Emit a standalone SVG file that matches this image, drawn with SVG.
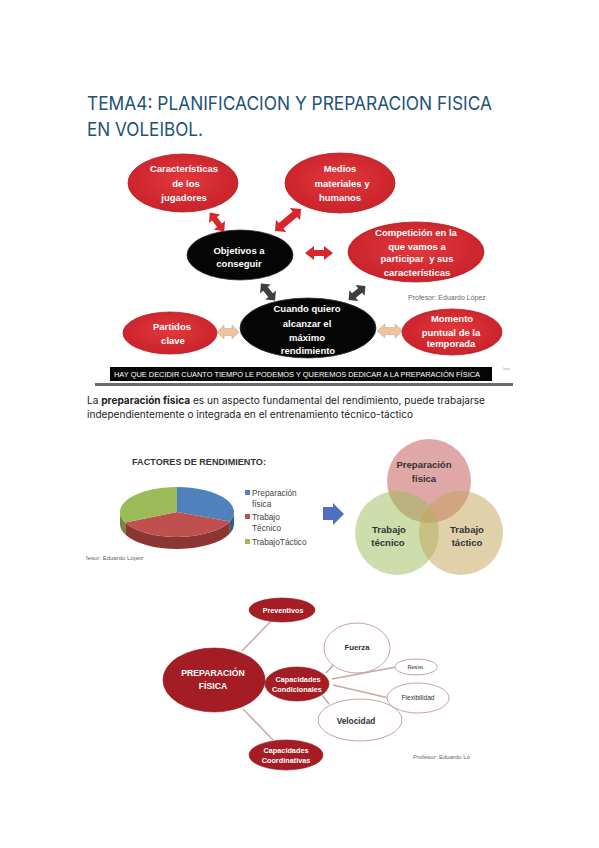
<svg xmlns="http://www.w3.org/2000/svg" width="599" height="848" viewBox="0 0 599 848">
<defs>
<radialGradient id="redG" cx="50%" cy="45%" r="60%">
<stop offset="0" stop-color="#E0393C"/><stop offset="1" stop-color="#C9202A"/>
</radialGradient>
<style>
.title{font-family:Inter,"Liberation Sans",sans-serif;font-size:19px;fill:#215374}
.lbl{font-family:"Liberation Sans",Arial,sans-serif;font-weight:bold;font-size:9.5px;fill:#fff;text-anchor:middle}
.red{fill:url(#redG);stroke:#B81E24;stroke-width:0.8}
.blk{fill:#050505;stroke:#333;stroke-width:0.8}
.rarr{fill:#D7262C}
.garr{fill:#3F3F3F}
.tarr{fill:#EDC4A2;stroke:#D8A887;stroke-width:0.6}
.prof{font-family:"Liberation Sans",Arial,sans-serif;fill:#666}
.para{font-family:Inter,"Liberation Sans",sans-serif;font-size:10px;fill:#222}
.leg{font-family:"Liberation Sans",Arial,sans-serif;font-size:8.3px;fill:#444}
.venn{font-family:"Liberation Sans",Arial,sans-serif;font-weight:bold;font-size:9.5px;fill:#333;text-anchor:middle}
.dred{fill:#A51D24;stroke:#8E1820;stroke-width:0.6}
.mm{font-family:"Liberation Sans",Arial,sans-serif;font-weight:bold;fill:#fff;text-anchor:middle}
.wo{fill:#fff;stroke:#C9A3A3;stroke-width:1}
.mt{font-family:"Liberation Sans",Arial,sans-serif;fill:#333;text-anchor:middle}
.ln{stroke:#C9A7A7;stroke-width:1.5;fill:none}
</style>
</defs>
<rect width="599" height="848" fill="#fff"/>

<!-- Title -->
<text class="title" x="87" y="110" textLength="405" lengthAdjust="spacingAndGlyphs">TEMA4: PLANIFICACION Y PREPARACION FISICA</text>
<text class="title" x="87" y="136" textLength="116" lengthAdjust="spacingAndGlyphs">EN VOLEIBOL.</text>

<!-- Top diagram connectors -->
<g id="top-connectors">
<polygon class="rarr" transform="translate(217,222) rotate(53)" points="-12,0 -4,-7 -4,-3 4,-3 4,-7 12,0 4,7 4,3 -4,3 -4,7"/>
<polygon class="rarr" transform="translate(288,220) rotate(-40)" points="-17,0 -9,-8 -9,-3.5 9,-3.5 9,-8 17,0 9,8 9,3.5 -9,3.5 -9,8"/>
<polygon class="rarr" transform="translate(319,253)" points="-14,0 -5,-7 -5,-3 5,-3 5,-7 14,0 5,7 5,3 -5,3 -5,7"/>
<polygon class="garr" transform="translate(268,292) rotate(50)" points="-11,0 -4,-7 -4,-3 4,-3 4,-7 11,0 4,7 4,3 -4,3 -4,7"/>
<polygon class="garr" transform="translate(357,293) rotate(-40)" points="-11,0 -4,-7 -4,-3 4,-3 4,-7 11,0 4,7 4,3 -4,3 -4,7"/>
<polygon class="tarr" transform="translate(228,332)" points="-11,0 -4,-7 -4,-3.5 4,-3.5 4,-7 11,0 4,7 4,3.5 -4,3.5 -4,7"/>
<polygon class="tarr" transform="translate(390,331)" points="-13,0 -5,-7 -5,-3.5 5,-3.5 5,-7 13,0 5,7 5,3.5 -5,3.5 -5,7"/>
</g>

<g id="caracteristicas">
<ellipse class="red" cx="183" cy="183" rx="55" ry="29"/>
<text class="lbl" x="184" y="172">Características</text>
<text class="lbl" x="186" y="187">de los</text>
<text class="lbl" x="184" y="201">jugadores</text>
</g>
<g id="medios">
<ellipse class="red" cx="340" cy="183" rx="55" ry="30"/>
<text class="lbl" x="340" y="172">Medios</text>
<text class="lbl" x="342" y="187">materiales y</text>
<text class="lbl" x="340" y="201">humanos</text>
</g>
<g id="competicion">
<ellipse class="red" cx="416" cy="252" rx="68" ry="30"/>
<text class="lbl" x="416" y="236">Competición en la</text>
<text class="lbl" x="417" y="250">que vamos a</text>
<text class="lbl" x="417" y="262" xml:space="preserve">participar  y sus</text>
<text class="lbl" x="417" y="276">características</text>
</g>
<g id="objetivos">
<ellipse class="blk" cx="240" cy="255" rx="53" ry="25"/>
<text class="lbl" x="239" y="254">Objetivos a</text>
<text class="lbl" x="239" y="267">conseguir</text>
</g>
<g id="cuando">
<ellipse class="blk" cx="308" cy="328" rx="68" ry="30"/>
<text class="lbl" x="307" y="312">Cuando quiero</text>
<text class="lbl" x="307" y="327">alcanzar el</text>
<text class="lbl" x="307" y="341">máximo</text>
<text class="lbl" x="308" y="354">rendimiento</text>
</g>
<g id="partidos">
<ellipse class="red" cx="170" cy="333" rx="47" ry="21"/>
<text class="lbl" x="172" y="330">Partidos</text>
<text class="lbl" x="173" y="344">clave</text>
</g>
<g id="momento">
<ellipse class="red" cx="452" cy="332" rx="50" ry="23"/>
<text class="lbl" x="452" y="322">Momento</text>
<text class="lbl" x="451" y="336">puntual de la</text>
<text class="lbl" x="451" y="347">temporada</text>
</g>
<text class="prof" x="408" y="300" font-size="7">Profesor: Eduardo López</text>

<!-- Bar -->
<g id="bar">
<rect x="110" y="367" width="382" height="14" fill="#050505"/>
<text x="114" y="377" font-family="'Liberation Sans',Arial,sans-serif" font-size="8" fill="#fff" textLength="366" lengthAdjust="spacingAndGlyphs">HAY QUE DECIDIR CUANTO TIEMPO LE PODEMOS Y QUEREMOS DEDICAR A LA PREPARACIÓN FÍSICA</text>
<rect x="95" y="383" width="418" height="3" fill="#6A6A6A"/>
<text x="503" y="370" font-family="'Liberation Sans',Arial,sans-serif" font-size="3.5" fill="#999">Intar</text>
</g>

<!-- Paragraph -->
<text class="para" x="87" y="404" textLength="398" lengthAdjust="spacingAndGlyphs">La <tspan font-weight="bold">preparación física</tspan> es un aspecto fundamental del rendimiento, puede trabajarse</text>
<text class="para" x="87" y="418" textLength="326" lengthAdjust="spacingAndGlyphs">independientemente o integrada en el entrenamiento técnico-táctico</text>

<!-- Pie chart -->
<g id="pie">
<text x="132" y="465" font-family="'Liberation Sans',Arial,sans-serif" font-weight="bold" font-size="9.5" fill="#333" textLength="134" lengthAdjust="spacingAndGlyphs">FACTORES DE RENDIMIENTO:</text>
<path d="M234,512 A57,25 0 0 1 229.8,521.4 L229.8,533.4 A57,25 0 0 0 234,524 Z" fill="#375C8A"/>
<path d="M229.8,521.4 A57,25 0 0 1 125.3,522.6 L125.3,534.6 A57,25 0 0 0 229.8,533.4 Z" fill="#8B3633"/>
<path d="M125.3,522.6 A57,25 0 0 1 120,512 L120,524 A57,25 0 0 0 125.3,534.6 Z" fill="#6F8A3D"/>
<path d="M177,512 L177,487 A57,25 0 0 1 229.8,521.4 Z" fill="#4F81BD"/>
<path d="M177,512 L229.8,521.4 A57,25 0 0 1 125.3,522.6 Z" fill="#C0504D"/>
<path d="M177,512 L125.3,522.6 A57,25 0 0 1 177,487 Z" fill="#9BBB59"/>
<rect x="245" y="490" width="5" height="5" fill="#4F81BD"/>
<text class="leg" x="252" y="496">Preparación</text>
<text class="leg" x="252" y="507">física</text>
<rect x="245" y="514" width="5" height="5" fill="#C0504D"/>
<text class="leg" x="252" y="520">Trabajo</text>
<text class="leg" x="252" y="531">Técnico</text>
<rect x="245" y="539" width="5" height="5" fill="#9BBB59"/>
<text class="leg" x="252" y="545">TrabajoTáctico</text>
<text class="prof" x="86" y="560" font-size="6">fesor: Eduardo López</text>
</g>

<!-- Blue arrow -->
<polygon points="323,507 333,507 333,503 344,514 333,525 333,520 323,520" fill="#4F70BE"/>

<!-- Venn -->
<g id="venn">
<circle cx="429" cy="481" r="42" fill="#C0504D" fill-opacity="0.5"/>
<circle cx="397" cy="533" r="42" fill="#9BBB59" fill-opacity="0.5"/>
<circle cx="461" cy="533" r="42" fill="#C4A458" fill-opacity="0.5"/>
<text class="venn" x="424" y="468">Preparación</text>
<text class="venn" x="424" y="482">física</text>
<text class="venn" x="389" y="533">Trabajo</text>
<text class="venn" x="388" y="546">técnico</text>
<text class="venn" x="467" y="533">Trabajo</text>
<text class="venn" x="467" y="546">táctico</text>
</g>

<!-- Mind map connectors -->
<g id="mm-connectors">
<line class="ln" x1="242" y1="651" x2="271" y2="621"/>
<line class="ln" x1="243" y1="709" x2="273" y2="740"/>
<line class="ln" x1="262" y1="682" x2="267" y2="682"/>
<line class="ln" x1="326" y1="673" x2="334" y2="664"/>
<line class="ln" x1="332" y1="679" x2="396" y2="667"/>
<line class="ln" x1="333" y1="685" x2="389" y2="698"/>
<line class="ln" x1="322" y1="695" x2="329" y2="704"/>
</g>

<g id="prep-fisica">
<ellipse class="dred" cx="214" cy="680" rx="51" ry="32"/>
<text class="mm" x="213" y="676" font-size="8.7">PREPARACIÓN</text>
<text class="mm" x="213" y="689" font-size="8.7">FÍSICA</text>
</g>
<g id="preventivos">
<ellipse class="dred" cx="282" cy="610" rx="33" ry="12"/>
<text class="mm" x="283" y="613" font-size="7.2">Preventivos</text>
</g>
<g id="cap-cond">
<ellipse class="dred" cx="297" cy="684" rx="32" ry="17"/>
<text class="mm" x="298" y="682" font-size="7.3">Capacidades</text>
<text class="mm" x="297" y="692" font-size="7.3">Condicionales</text>
</g>
<g id="cap-coord">
<ellipse class="dred" cx="286" cy="755" rx="37" ry="15"/>
<text class="mm" x="286" y="753" font-size="7.3">Capacidades</text>
<text class="mm" x="286" y="763" font-size="7.3">Coordinativas</text>
</g>
<g id="fuerza">
<ellipse class="wo" cx="357" cy="648" rx="33" ry="25"/>
<text class="mt" x="357" y="650" font-size="7.8" font-weight="bold">Fuerza</text>
</g>
<g id="resist">
<ellipse class="wo" cx="416" cy="667" rx="21" ry="8"/>
<text class="mt" x="416" y="669" font-size="5.6">Resist.</text>
</g>
<g id="flexibilidad">
<ellipse class="wo" cx="418" cy="698" rx="31" ry="15"/>
<text class="mt" x="418" y="700" font-size="6.6">Flexibilidad</text>
</g>
<g id="velocidad">
<ellipse class="wo" cx="360" cy="720" rx="42" ry="21"/>
<text class="mt" x="356" y="724" font-size="8.3" font-weight="bold">Velocidad</text>
</g>
<text class="prof" x="413" y="759" font-size="6">Profesor: Eduardo Ló</text>
</svg>
